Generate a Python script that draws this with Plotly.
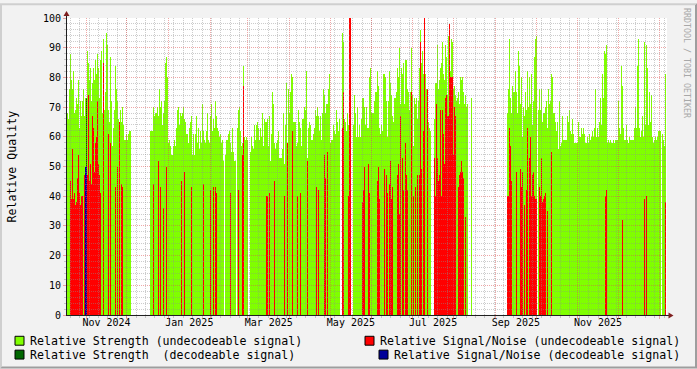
import pandas as pd
import plotly.graph_objects as go

# ------------------------------------------------------------------ data
series_start = "2024-10-17 16:00"   # time of the first consolidated sample
sample_seconds = 64160               # consolidation step of the samples

# Relative Strength (undecodeable signal), one value per sample, None = no data
strength_undecodeable = (
    [68, 66, 76, 88, 79, 76, 82, 68, 69, 73,
     71, 79, 63, 72, 67, 72, 76, 67, 73, None,
     89, 85, 79, 83, 72, 78, 83, 79, 86, 81,
     88, 83, 73, 86, 89, 68, 93, 69, 75, 95,
     91, 69, 65, 87, 72, 57, 63, 69, 84, 76,
     72, 66, 65, 69, 65, 70, 64, 59, 59, 61,
     59, 61, 62, 62]
    + [None] * 19
    + [62, 62, 62, 70, 67, 68, 68, 70, 67, 76,
       70, 72, 64, 68, 72, 85, 87, 80, 58, 59,
       57, 54, 54, 57, 59, 57, 63, 69, 70, 64,
       68, 67, 68, 70, 66, 65, 61, 61, 58, 63,
       65, 67, 54, 61, 54, 61, 67, 58, 63, 56,
       62, 58, 71, 62, 59, 58, 62, 68, 59, 58,
       67, 71, 62, 66, 63, 72, 67, 63, 62, 60,
       61, 58, 59, 52, None, 54, 59, 59, 61, 62,
       58, 55, 63, 55, 52, 52, None, 63, 69, 70,
       62, 57, 58, 84, 60, 59, 60, 59, None, None,
       55, 60, 57, 56, 64, 59, 64, 65, 63, 59,
       63, 60, 68, 57, 66, 65, 65, 66, 57, 67,
       52, 61, 75, 71, 58, 56, 58, 59, 62, 53,
       53, 53, 56, 68, 51, 64, 78, 55, 76, 68,
       75, 81, 80, 65, 65, 65, 57, 58, 69, 65,
       63, 57, 66, 66, 70, 69, 82, 53, 63, 65,
       64, 59, 59, 61, 63, 69, 67, 70, 67, 62,
       67, 59, 68, 76, 74, 68, 71, 71, 76, 81,
       58, 59, 59, 64, 62, 61, 69, 65, 62, 66,
       None, None, 95, 92, 66, 65, 62, 68, 64, 64,
       64, None, None, 64, 74, 68, 60, 70, 60, 64,
       60, 66, 73, 73, 70, 64, 70, 63, 63, 80,
       83, 68, 68, 68, 72, 75, 75, 82, 77, 63,
       61, 64, 62, 81, 81, 80, 72, 60, 72, 82,
       78, 74, 67, 65, 73, 73, 75, 83, 80, 90,
       71, 83, 81, 85, 71, 86, 86, 76, 75, 69,
       75, 90, 74, 57, 73, 71, 73, 66, 72, 83,
       96, 85, 89, 81, 81, 81, 76, 74, 65, 63,
       62, None, None, None, 66, 78, 78, 91, 76, 79,
       83, 85, 92, 81, 79, 91, 87, 74, 94, 82,
       82, 93, 92, 76, 77, 74, 72, 73, 75, 71,
       80, 79, 80, 75, 71, 74, 70, 71, None, None,
       None, 73]
    + [None] * 35
    + [68, 76, 93, 73, 68, 77, 75, 75, 82, 75,
       68, 89, 84, 71, 80, 60, 70, 67, 75, 69,
       82, 70, 80, 71, 81, 64, 72, 87, 93, 94,
       None, 69, 76, 69, 76, 65, 68, 68, 70, 72,
       63, 76, 71, 72, 81, 80, 68, 68, 65, 62,
       65, 56, 72, 57, 58, 67, 59, 59, 59, 59,
       67, 65, 69, 62, 61, 66, 61, 58, 58, 58,
       58, 65, 60, 60, 63, 61, 63, 61, 58, 58,
       60, 58, 61, 59, 60, 62, 60, 63, 76, 60,
       63, 60, 65, 73, 64, 81, 73, 89, 88, 91,
       58, 59, 58, 59, 58, 58, 59, 58, 59, 59,
       59, 72, 63, 61, 84, 77, 63, 59, 59, 64,
       59, 58, 60, 59, 59, 59, 59, 63, 70, 63,
       84, 93, 63, 60, 62, 67, 60, 92, 64, 91,
       83, 64, 75, 65, 74, 60, 58, 59, 60, 59,
       60, 62, 62, 62, None, 61, 59, 57, 81, None]
)

# Relative Signal/Noise (undecodeable signal): sample numbers and values
snr_undecodeable_samples = [
    3, 4, 5, 6, 7, 8, 9, 10, 11, 12, 13, 14, 15, 17, 20, 21, 22, 23, 24, 25,
    26, 27, 28, 29, 30, 31, 32, 33, 36, 41, 43, 48, 50, 52, 54, 55,
    86, 91, 93, 96, 99, 114, 117, 124, 136, 143, 146, 148, 149, 163, 171, 175,
    176, 199, 200, 202, 207, 217, 220, 225, 230, 233, 240, 249, 251, 257, 258,
    260, 275, 276, 281, 282, 283, 295, 296, 297, 301, 302, 310, 311, 312, 317,
    319, 320, 322, 323, 324, 325, 330, 331, 332, 333, 335, 336, 338, 339, 340,
    344, 346, 348, 350, 352, 353, 354, 356, 357, 360, 367, 368, 369, 370, 371,
    372, 373, 374, 375, 376, 377, 378, 379, 380, 381, 382, 383, 384, 385, 386,
    387, 388, 391, 392, 393, 394, 395, 396, 398,
    440, 441, 442, 443, 444, 449, 453, 454, 455, 457, 459, 460, 462, 463, 464,
    465, 466, 467, 468, 469, 472, 473, 474, 475, 476, 477, 478, 480, 484, 538,
    539, 555, 577, 579, 598]
snr_undecodeable_values = [
    45, 39, 56, 39, 41, 37, 38, 46, 54, 41, 37, 40, 40, 47, 47, 74, 45, 51, 44, 67,
    63, 48, 58, 60, 72, 51, 47, 41, 85, 61, 58, 43, 50, 65, 44, 43,
    44, 52, 43, 36, 50, 45, 48, 43, 44, 42, 43, 43, 41, 41, 42, 54,
    77, 40, 40, 41, 45, 40, 58, 62, 40, 41, 52, 43, 42, 54, 46,
    55, 63, 75, 40, 100, 100, 38, 42, 50, 51, 41, 45, 50, 39, 49,
    47, 41, 44, 52, 39, 43, 47, 51, 34, 67, 53, 42, 58, 47, 42,
    75, 40, 43, 47, 47, 92, 49, 62, 100, 76, 53, 40, 71, 53, 45,
    47, 69, 40, 69, 61, 51, 73, 74, 67, 67, 98, 80, 80, 80, 54,
    70, 67, 43, 47, 48, 52, 48, 46, 33,
    40, 40, 63, 57, 45, 48, 49, 43, 48, 37, 42, 63, 53, 60, 40,
    47, 48, 40, 39, 39, 43, 40, 53, 38, 39, 40, 41, 35, 55, 40,
    42, 32, 39, 40, 38]

# decodeable signal (a single occasion)
strength_decodeable_samples = [19]
strength_decodeable_values = [73]
snr_decodeable_samples = [18, 19]
snr_decodeable_values = [50, 50]

label_months = ["2024-11", "2025-01", "2025-03", "2025-05", "2025-07", "2025-09", "2025-11"]
tick_labels = ["Nov 2024", "Jan 2025", "Mar 2025", "May 2025", "Jul 2025", "Sep 2025", "Nov 2025"]
y_tick_values = [0, 10, 20, 30, 40, 50, 60, 70, 80, 90, 100]

series_names = [
    "Relative Strength (undecodeable signal)",
    "Relative Signal/Noise (undecodeable signal)",
    "Relative Strength  (decodeable signal)",
    "Relative Signal/Noise (decodeable signal)",
]
series_colors = ["#80FF00", "#FF0000", "#006600", "#000099"]
axis_title = "Relative Quality"
watermark = "RRDTOOL / TOBI OETIKER"

# ------------------------------------------------------------------ geometry / style
W, H = 697, 369
L, R, T, B = 67, 30, 15, 54
PW, PH = W - L - R, H - T - B
FONT = "DejaVu Sans Mono"
GRID = "rgba(143,143,143,0.45)"
MGRID = "rgba(222,79,79,0.5)"
AXIS = "#1F1F1F"
ARROW = "#7F1F1F"
DOTS = "1px,1px"


def fx(px):
    return (px - L) / PW


def fy(py):
    return (H - B - py) / PH


assert len(strength_undecodeable) == 600
assert len(snr_undecodeable_samples) == len(snr_undecodeable_values)

t0 = pd.Timestamp(series_start)
step = pd.Timedelta(seconds=sample_seconds)
t_end = t0 + len(strength_undecodeable) * step
width_ms = sample_seconds * 1000


def times(samples):
    return [t0 + (s + 0.5) * step for s in samples]


fig = go.Figure()
series = [
    (range(len(strength_undecodeable)), strength_undecodeable),
    (snr_undecodeable_samples, snr_undecodeable_values),
    (strength_decodeable_samples, strength_decodeable_values),
    (snr_decodeable_samples, snr_decodeable_values),
]
for (samples, values), name, color in zip(series, series_names, series_colors):
    fig.add_trace(go.Bar(
        x=times(samples), y=values, width=width_ms, name=name,
        marker=dict(color=color, line=dict(width=0)),
        showlegend=False, hoverinfo="skip"))

# empty traces that own the grid subplots (drawn above the bars, like rrdtool)
fig.add_trace(go.Scatter(x=[], y=[], xaxis="x2", yaxis="y2", showlegend=False))
fig.add_trace(go.Scatter(x=[], y=[], xaxis="x3", yaxis="y3", showlegend=False))

label_centres = []
for m in label_months:
    s = pd.Timestamp(m)
    e = s + pd.offsets.MonthBegin(1)
    label_centres.append(s + (e - s) / 2)

tickfont = dict(family=FONT, size=10, color="#000000")
rng = [t0, t_end]

fig.update_layout(
    width=W, height=H, autosize=False,
    margin=dict(l=L, r=R, t=T, b=B, pad=0),
    paper_bgcolor="#F2F2F2", plot_bgcolor="rgba(0,0,0,0)",
    barmode="overlay", bargap=0,
    xaxis=dict(domain=[0, 1], anchor="y", type="date", range=rng,
               tickmode="array", tickvals=label_centres, ticktext=tick_labels,
               ticks="", showgrid=False, zeroline=False, showline=False,
               tickfont=tickfont, fixedrange=True),
    yaxis=dict(domain=[0, 1], anchor="x", range=[0, 100],
               tickmode="array", tickvals=y_tick_values,
               ticktext=[str(v) for v in y_tick_values],
               ticks="", showgrid=False, zeroline=False, showline=False,
               tickfont=tickfont, ticklabelstandoff=5, fixedrange=True),
    # weekly (minor) vertical grid + horizontal grid
    xaxis2=dict(domain=[0, 1], anchor="y2", type="date", range=rng,
                tickmode="linear", tick0="2024-10-20", dtick=7 * 86400000,
                showticklabels=False, showgrid=True, gridcolor=GRID,
                griddash=DOTS, gridwidth=1, zeroline=False, showline=False,
                ticks="outside", ticklen=2, tickcolor=GRID, tickwidth=1,
                fixedrange=True),
    yaxis2=dict(domain=[0, 1], anchor="x2", range=[0, 100],
                tickmode="linear", tick0=0, dtick=10,
                showticklabels=False, showgrid=True, gridcolor=MGRID,
                griddash=DOTS, gridwidth=1, zeroline=False, showline=False,
                ticks="outside", ticklen=3, tickcolor=MGRID, tickwidth=1,
                minor=dict(dtick=2, showgrid=True, gridcolor=GRID,
                           griddash=DOTS, gridwidth=1,
                           ticks="outside", ticklen=2, tickcolor=GRID),
                fixedrange=True),
    # monthly (major) vertical grid
    xaxis3=dict(domain=[0, 1], anchor="y3", type="date", range=rng,
                tickmode="linear", tick0="2024-11-01", dtick="M1",
                showticklabels=False, showgrid=True, gridcolor=MGRID,
                griddash=DOTS, gridwidth=1, zeroline=False, showline=False,
                ticks="outside", ticklen=3, tickcolor=MGRID, tickwidth=1,
                fixedrange=True),
    yaxis3=dict(domain=[0, 1], anchor="x3", range=[0, 100],
                showticklabels=False, showgrid=False, zeroline=False,
                showline=False, ticks="", fixedrange=True),
)

shapes = []
# white canvas under the graph
shapes.append(dict(type="rect", xref="paper", yref="paper", x0=0, x1=1, y0=0, y1=1,
                   fillcolor="#FFFFFF", line=dict(width=0), layer="below"))


def poly(pts):
    return "M " + " L ".join(f"{fx(a):.6f},{fy(b):.6f}" for a, b in pts) + " Z"


# 3D bevel of the image border
shapes.append(dict(type="path", xref="paper", yref="paper", layer="above",
                   path=poly([(0, H), (2, H - 2), (2, 2), (W - 2, 2), (W, 0), (0, 0)]),
                   fillcolor="#CFCFCF", line=dict(width=0)))
shapes.append(dict(type="path", xref="paper", yref="paper", layer="above",
                   path=poly([(2, H - 2), (W - 2, H - 2), (W - 2, 2), (W, 0), (W, H), (0, H)]),
                   fillcolor="#9E9E9E", line=dict(width=0)))
# axes with arrows
shapes.append(dict(type="line", xref="paper", yref="paper", layer="above",
                   x0=fx(66.5), x1=fx(66.5), y0=fy(316), y1=fy(11),
                   line=dict(color=AXIS, width=1)))
shapes.append(dict(type="line", xref="paper", yref="paper", layer="above",
                   x0=fx(66), x1=fx(670), y0=fy(315.5), y1=fy(315.5),
                   line=dict(color=AXIS, width=1)))
shapes.append(dict(type="path", xref="paper", yref="paper", layer="above",
                   path=poly([(63.5, 13), (69.5, 13), (66.5, 8)]),
                   fillcolor=ARROW, line=dict(width=0)))
shapes.append(dict(type="path", xref="paper", yref="paper", layer="above",
                   path=poly([(668.5, 312.5), (668.5, 318.5), (673.5, 315.5)]),
                   fillcolor=ARROW, line=dict(width=0)))

annotations = []
# rrdtool-style legend (two columns)
legend_boxes = [(15, 336.5), (365, 336.5), (15, 350.5), (379, 350.5)]
for k, (bx, by) in enumerate(legend_boxes):
    shapes.append(dict(type="rect", xref="paper", yref="paper", layer="above",
                       x0=fx(bx), x1=fx(bx + 9), y0=fy(by), y1=fy(by + 9),
                       fillcolor=series_colors[k], line=dict(color="#000000", width=1)))
    annotations.append(dict(xref="paper", yref="paper", x=fx(bx + 15), y=fy(by + 4.5),
                            xanchor="left", yanchor="middle",
                            text=series_names[k].replace("  ", "&nbsp; "),
                            showarrow=False, borderpad=0, borderwidth=0,
                            font=dict(family=FONT, size=11.6, color="#000000")))

annotations.append(dict(xref="paper", yref="paper", x=fx(11), y=fy(165),
                        xanchor="center", yanchor="middle", text=axis_title, textangle=-90,
                        showarrow=False, borderpad=0, borderwidth=0,
                        font=dict(family=FONT, size=11.6, color="#000000")))
annotations.append(dict(xref="paper", yref="paper", x=fx(687.5), y=fy(60),
                        xanchor="center", yanchor="middle", text=watermark, textangle=90,
                        showarrow=False, borderpad=0, borderwidth=0,
                        font=dict(family=FONT, size=8.3, color="#A8A8A8")))

fig.update_layout(shapes=shapes, annotations=annotations)
fig.write_html("out.html")
